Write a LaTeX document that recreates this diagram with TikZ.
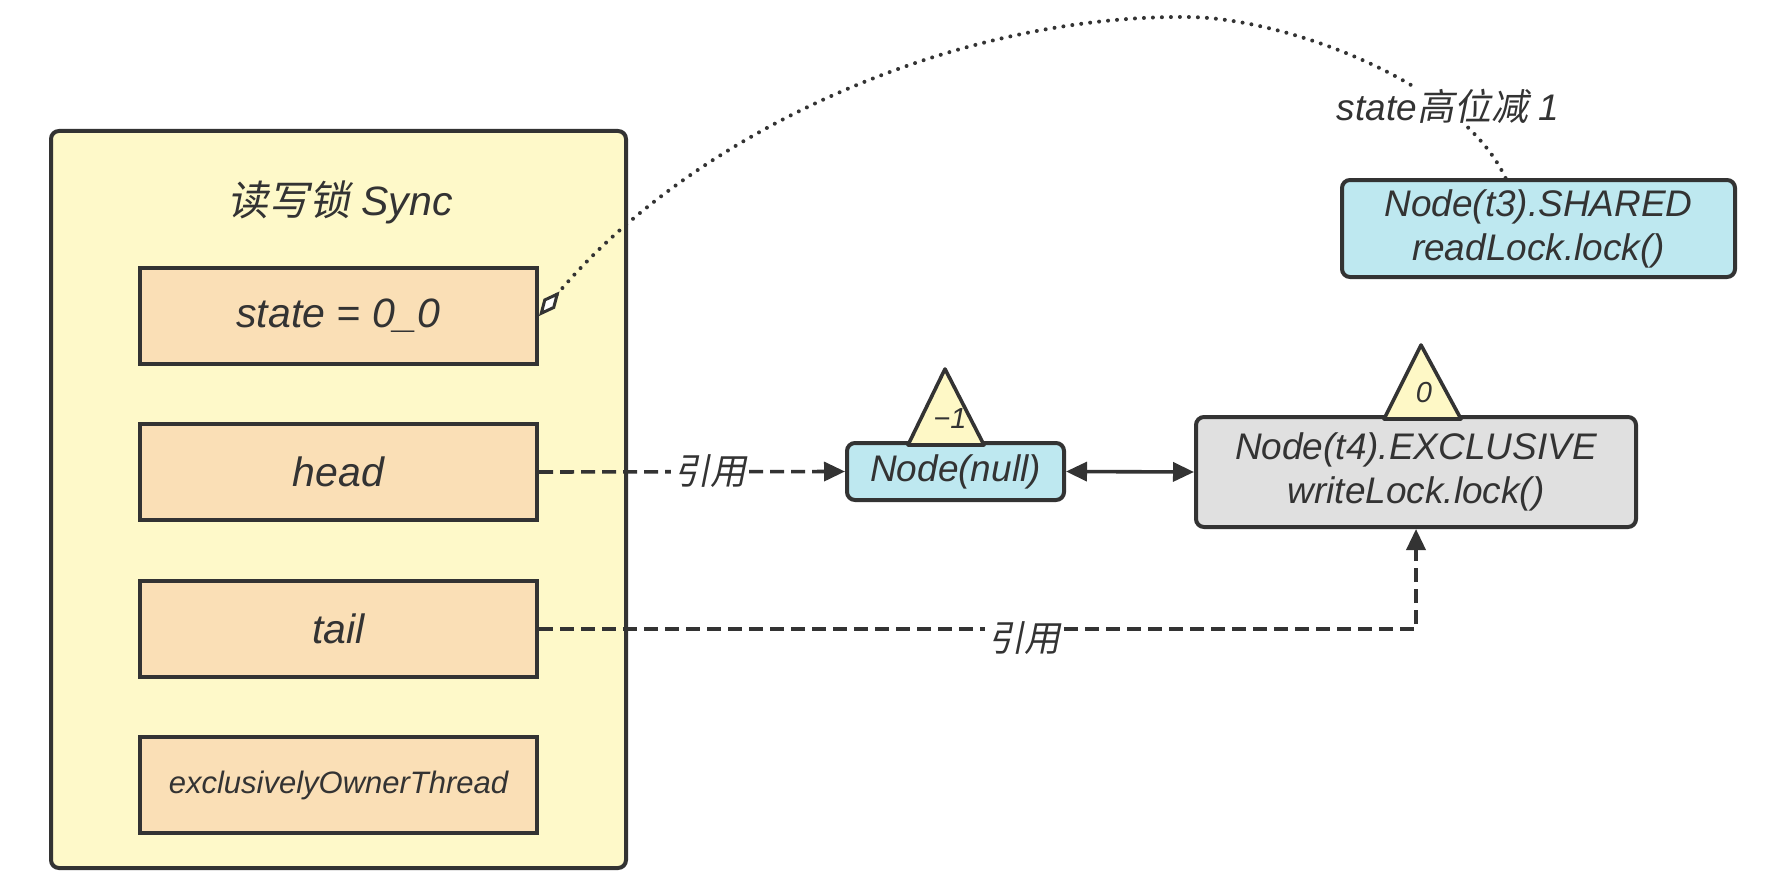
\documentclass[tikz,border=0pt]{standalone}
\usepackage{fontspec}
\setmainfont{Liberation Sans}
\newfontfamily\cjk[FakeSlant=0.2]{Noto Sans CJK SC}
\usetikzlibrary{arrows.meta,calc}
\definecolor{ink}{HTML}{333333}
\definecolor{outerc}{HTML}{FEF9C9}
\definecolor{fieldc}{HTML}{FADFB6}
\definecolor{cyanc}{HTML}{BEE8F0}
\definecolor{greyc}{HTML}{E0E0E0}
\definecolor{tric}{HTML}{FEF8C6}
\tikzset{
 base/.style={draw=ink,line width=4pt,inner sep=0pt,text=ink,align=center},
 outerbox/.style={base,fill=outerc,rounded corners=8pt,minimum width=575pt,minimum height=737pt},
 field/.style={base,fill=fieldc,minimum width=397pt,minimum height=96pt,font=\fontsize{41}{49}\selectfont\itshape},
 cyanbox/.style={base,fill=cyanc,rounded corners=8pt,font=\fontsize{37}{44}\selectfont\itshape},
 greybox/.style={base,fill=greyc,rounded corners=8pt,font=\fontsize{37}{44}\selectfont\itshape},
 lbl/.style={text=ink,fill=white,inner sep=3pt,font=\fontsize{36}{43}\selectfont\itshape},
 conn/.style={draw=ink,line width=3.6pt},
 dashconn/.style={conn,dash pattern=on 14pt off 7pt},
 dotconn/.style={conn,line width=4pt,line cap=round,dash pattern=on 0pt off 9pt},
 tri/.style={draw=ink,line width=3.6pt,fill=tric,line join=round},
 trilbl/.style={text=ink,inner sep=0pt,font=\fontsize{29}{34}\selectfont\itshape},
 arr/.tip={Triangle[length=21pt,width=19pt]},
}
\begin{document}
\begin{tikzpicture}[x=1pt,y=-1pt]
\useasboundingbox (0,0) rectangle (1790,888);
% left container
\node[outerbox] (sync) at (338.5,499.5) {};
\node[text=ink,inner sep=0pt,font=\fontsize{41}{49}\selectfont\itshape] (title) at (340,202) {{\cjk 读写锁} Sync};
\node[field] (state) at (338.5,316) {state = 0\_0};
\node[field] (head) at (338.5,472) {head};
\node[field] (tail) at (338.5,629) {tail};
\node[field,font=\fontsize{31}{37}\selectfont\itshape] (excl) at (338.5,785) {exclusivelyOwnerThread};
% right nodes
\node[cyanbox,minimum width=217pt,minimum height=57pt] (null) at (955.5,471.5) {Node(null)};
\node[greybox,minimum width=440pt,minimum height=110pt] (t4) at (1416,472) {Node(t4).EXCLUSIVE\\writeLock.lock()};
\node[cyanbox,minimum width=393pt,minimum height=97pt] (t3) at (1538.5,228.5) {Node(t3).SHARED\\readLock.lock()};
% triangles
\draw[tri] (908,445) -- (945,369) -- (984,445) -- cycle;
\node[trilbl] (m1) at (950,419) {−1};
\draw[tri] (1384,419) -- (1421,345) -- (1461,419) -- cycle;
\node[trilbl] (z0) at (1424,393) {0};
% connectors
\draw[dashconn,-arr] (head.east) -- (null.west);
\node[lbl] (ref1) at (710,471) {\cjk 引用};
\draw[conn,arr-arr] (null.east) -- (t4.west);
\draw[dashconn,-arr] (tail.east) -| (t4.south);
\node[lbl] (ref2) at (1024,638) {\cjk 引用};
\draw[dotconn,{Diamond[fill=white,length=32pt,width=15pt,line width=3pt]}-]
  (state.east) .. controls (690,135) and (950,15) .. (1187,17)
  .. controls (1280,17) and (1460,80) .. ([xshift=-33pt]t3.north);
\node[lbl,fill=white,inner sep=2pt,font=\fontsize{37}{44}\selectfont\itshape] (stlbl) at (1448,106) {state{\cjk 高位减} 1};
\end{tikzpicture}
\end{document}
